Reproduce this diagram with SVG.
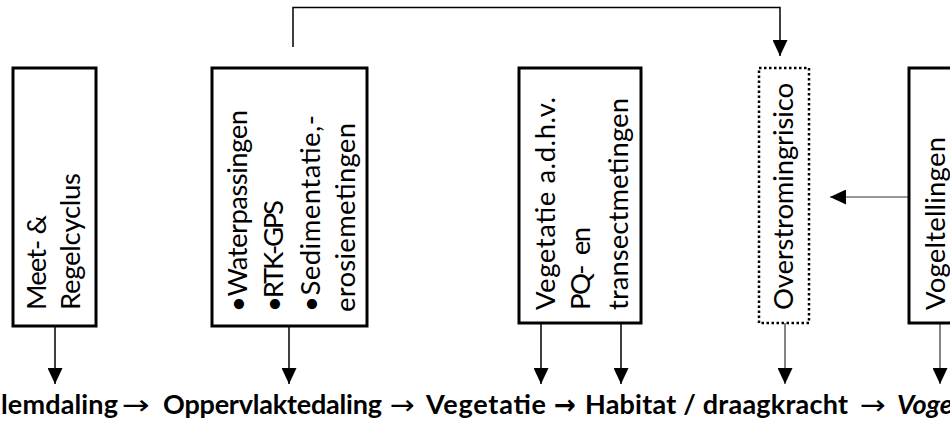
<svg xmlns="http://www.w3.org/2000/svg" width="950" height="426" viewBox="0 0 950 426">
<defs>
<marker id="ah" markerUnits="userSpaceOnUse" markerWidth="16" markerHeight="15" refX="16" refY="7.5" orient="auto">
<path d="M0,0 L16,7.5 L0,15 z" fill="#000"/>
</marker>
<style>
.box{fill:#fff;stroke:#000;stroke-width:3}
.dot{fill:#fff;stroke:#000;stroke-width:2.5;stroke-dasharray:2.5 2.5}
.lbl{font-family:Lato,"Liberation Sans",sans-serif;font-size:27.5px;font-weight:normal;fill:#000}
.c{fill:none;stroke:#000;stroke-width:1.5}
.g{fill:none;stroke:#333;stroke-width:1.2}
.bt{font-family:Lato,"Liberation Sans",sans-serif;font-size:27px;font-weight:bold;fill:#000}
.ar{font-family:"DejaVu Sans",sans-serif;font-weight:normal}
</style>
</defs>
<rect width="950" height="426" fill="#fff"/>
<g id="connectors">
<polyline class="c" points="293,47 293,7.5 780,7.5 780,56" marker-end="url(#ah)"/>
<line class="c" x1="55" y1="327" x2="55" y2="384" marker-end="url(#ah)"/>
<line class="c" x1="289" y1="327" x2="289" y2="384" marker-end="url(#ah)"/>
<line class="c" x1="541" y1="323" x2="541" y2="384" marker-end="url(#ah)"/>
<line class="c" x1="621" y1="323" x2="621" y2="384" marker-end="url(#ah)"/>
<line class="g" x1="785" y1="323" x2="785" y2="384" marker-end="url(#ah)"/>
<line class="g" x1="940" y1="323" x2="940" y2="384" marker-end="url(#ah)"/>
<line class="g" x1="909" y1="197" x2="830" y2="197" marker-end="url(#ah)"/>
</g>
<g id="node-meet">
<rect class="box" x="13" y="68" width="83" height="258"/>
<text class="lbl" transform="translate(46,310) rotate(-90)" textLength="95">Meet- &amp;</text>
<text class="lbl" transform="translate(80,310) rotate(-90)" textLength="137">Regelcyclus</text>
</g>
<g id="node-water">
<rect class="box" x="212" y="68" width="155" height="258"/>
<text class="lbl" transform="translate(247,312) rotate(-90)" textLength="202">•Waterpassingen</text>
<text class="lbl" transform="translate(283,312) rotate(-90)" textLength="112">•RTK-GPS</text>
<text class="lbl" transform="translate(320,312) rotate(-90)" textLength="197">•Sedimentatie,-</text>
<text class="lbl" transform="translate(355,312) rotate(-90)" textLength="189">erosiemetingen</text>
</g>
<g id="node-veg">
<rect class="box" x="519" y="68" width="122" height="255"/>
<text class="lbl" transform="translate(555,310) rotate(-90)" textLength="213">Vegetatie a.d.h.v.</text>
<text class="lbl" transform="translate(590,310) rotate(-90)" xml:space="preserve" textLength="83">PQ-  en</text>
<text class="lbl" transform="translate(628,310) rotate(-90)" textLength="212">transectmetingen</text>
</g>
<g id="node-over">
<rect class="dot" x="759" y="68" width="50" height="255"/>
<text class="lbl" transform="translate(793,310) rotate(-90)" textLength="227">Overstromingrisico</text>
</g>
<g id="node-vogel">
<rect class="box" x="909" y="68" width="60" height="255"/>
<text class="lbl" transform="translate(945,310) rotate(-90)" textLength="173">Vogeltellingen</text>
</g>
<g id="chain">
<text class="bt" x="1" y="414" textLength="117">lemdaling</text>
<text class="bt ar" x="122" y="414" textLength="28" lengthAdjust="spacingAndGlyphs">→</text>
<text class="bt" x="163" y="414" textLength="219">Oppervlaktedaling</text>
<text class="bt ar" x="390" y="414" textLength="25" lengthAdjust="spacingAndGlyphs">→</text>
<text class="bt" x="426" y="414" textLength="120">Vegetatie</text>
<text class="bt ar" x="554" y="414" textLength="22" lengthAdjust="spacingAndGlyphs" style="font-weight:bold">→</text>
<text class="bt" x="585" y="414" textLength="263">Habitat / draagkracht</text>
<text class="bt ar" x="860" y="414" textLength="26" lengthAdjust="spacingAndGlyphs">→</text>
<text class="bt" x="897" y="414" font-style="italic">Voge</text>
</g>
</svg>
